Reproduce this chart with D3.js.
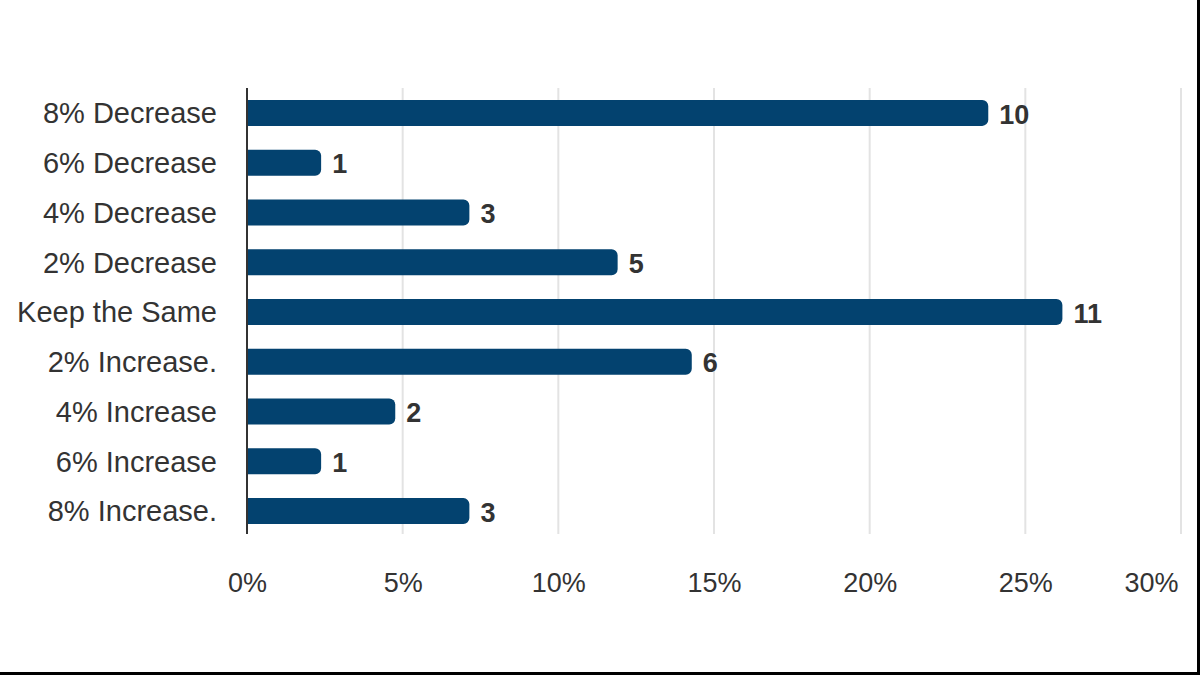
<!DOCTYPE html>
<meta charset="utf-8">
<script src="https://d3js.org/d3.v7.min.js"></script>
<style>
  body { margin: 0; background: #fff; }
  svg { display: block; font-family: "Liberation Sans", Arial, sans-serif; }
</style>
<div id="chart"></div>
<script>

    // categories, top to bottom
    var categories = ["8% Decrease", "6% Decrease", "4% Decrease", "2% Decrease", "Keep the Same",
        "2% Increase.", "4% Increase", "6% Increase", "8% Increase."]
    // response counts
    var counts = [10, 1, 3, 5, 11, 6, 2, 1, 3]
    var xTicks = [0, 0.05, 0.10, 0.15, 0.20, 0.25, 0.30]

    var total = d3.sum(counts)

    var W = 1200, H = 675
    var svg = d3.select("#chart")
        .append("svg")
            .attr("width", W)
            .attr("height", H)

    // frame on the right and bottom
    svg.append("line").attr("x1", 1198.5).attr("x2", 1198.5).attr("y1", 0).attr("y2", H)
        .attr("stroke", "#000").attr("stroke-width", 3)
    svg.append("line").attr("x1", 0).attr("x2", W).attr("y1", 673.5).attr("y2", 673.5)
        .attr("stroke", "#000").attr("stroke-width", 3)

    var x = d3.scaleLinear()
        .domain([0, 0.30])
        .range([247, 1181])

    var y = d3.scaleBand()
        .domain(categories)
        .range([88, 536])
        .paddingInner(0.478)
        .paddingOuter(0.239)

    // grid lines
    svg.append("g")
        .selectAll("line")
        .data(xTicks.slice(1))
        .enter()
        .append("line")
            .attr("x1", function(d) { return x(d) })
            .attr("x2", function(d) { return x(d) })
            .attr("y1", 88)
            .attr("y2", 534)
            .attr("stroke", "#e3e3e3")
            .attr("stroke-width", 2)

    // x axis labels
    var xAxis = svg.append("g")
        .attr("transform", "translate(0,573)")
        .call(d3.axisBottom(x).tickValues(xTicks).tickFormat(d3.format(".0%")).tickSize(0))
    xAxis.select(".domain").remove()
    xAxis.selectAll("text")
        .attr("dy", "0.71em")
        .attr("y", 0)
        .style("font-size", "27px")
        .style("font-family", "Liberation Sans, Arial, sans-serif")
        .attr("fill", "#333")
    // last label is pulled inside the frame
    xAxis.selectAll(".tick")
        .filter(function(d) { return d === 0.30 })
        .select("text")
            .attr("text-anchor", "end")
            .attr("x", -3)

    // y axis labels
    var yAxis = svg.append("g")
        .attr("transform", "translate(247,1)")
        .call(d3.axisLeft(y).tickSize(0).tickPadding(30))
    yAxis.select(".domain").remove()
    yAxis.selectAll("text")
        .style("font-size", "29px")
        .style("font-family", "Liberation Sans, Arial, sans-serif")
        .attr("fill", "#333")

    // bars with rounded right end
    var r = 6
    function barPath(d, i) {
        var x0 = x(0), x1 = x(d / total), y0 = y(categories[i]), h = y.bandwidth()
        return "M" + x0 + "," + y0 +
            "H" + (x1 - r) +
            "A" + r + "," + r + " 0 0 1 " + x1 + "," + (y0 + r) +
            "V" + (y0 + h - r) +
            "A" + r + "," + r + " 0 0 1 " + (x1 - r) + "," + (y0 + h) +
            "H" + x0 + "Z"
    }
    svg.append("g")
        .selectAll("path")
        .data(counts)
        .enter()
        .append("path")
            .attr("d", barPath)
            .attr("fill", "#03426f")

    // value labels
    svg.append("g")
        .selectAll("text")
        .data(counts)
        .enter()
        .append("text")
            .attr("x", function(d) { return x(d / total) + 11 })
            .attr("y", function(d, i) { return y(categories[i]) + y.bandwidth() / 2 + 1 })
            .attr("dy", "0.36em")
            .style("font-size", "27px")
            .style("font-weight", "bold")
            .attr("fill", "#333")
            .text(function(d) { return d })

    // axis line
    svg.append("line")
        .attr("x1", 247).attr("x2", 247)
        .attr("y1", 88).attr("y2", 534)
        .attr("stroke", "#333")
        .attr("stroke-width", 2)

</script>
